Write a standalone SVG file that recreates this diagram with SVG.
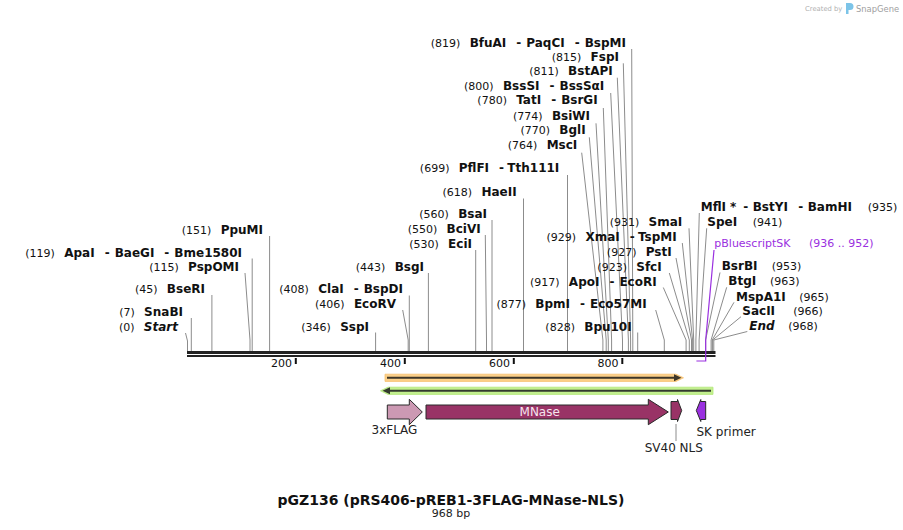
<svg xmlns="http://www.w3.org/2000/svg" width="903" height="530" viewBox="0 0 903 530">
<style>
text{font-family:"DejaVu Sans",Verdana,"Liberation Sans",sans-serif;fill:#111}
.n{font-size:11px;font-weight:normal}
.b{font-size:12px;font-weight:bold}
.bi{font-size:12px;font-weight:bold;font-style:italic}
.e{text-anchor:end}
.p{fill:#9a30e0;font-size:11px}
.l{fill:none;stroke:#8c8c8c;stroke-width:1}
.fl{font-size:12px;fill:#222}
.feat{stroke:#2a2a2a;stroke-width:1}
</style>
<rect width="903" height="530" fill="#fff"/>
<g id="watermark">
<text x="805" y="11" style="font-size:6.8px;fill:#b0b0b0">Created by</text>
<path d="M846 3h4a3.5 3.5 0 0 1 0 7h-1.5v4h-2.5z" fill="#7cc4e8"/>
<text x="856" y="12" style="font-size:8.4px;fill:#a0a0a0">SnapGene</text>
</g>
<g id="backbone">
<rect x="187" y="351" width="528.5" height="3" fill="#222"/>
<rect x="187" y="355" width="528.5" height="2" fill="#222"/>
<g fill="#111">
<rect x="294.8" y="358" width="2" height="6"/>
<rect x="403.8" y="358" width="2" height="6"/>
<rect x="512.8" y="358" width="2" height="6"/>
<rect x="621.3" y="358" width="2" height="6"/>
</g>
<text class="n e" x="292" y="367">200</text>
<text class="n e" x="401" y="367">400</text>
<text class="n e" x="510" y="367">600</text>
<text class="n e" x="618.5" y="367">800</text>
</g>
<g id="connectors">
<polyline class="l" points="185.5,333 187.5,341 187.5,351"/>
<polyline class="l" points="191.3,318 191.3,351"/>
<polyline class="l" points="211.9,295 211.9,351"/>
<polyline class="l" points="245,273 250,340 250,351"/>
<polyline class="l" points="252.2,258.5 252.2,351"/>
<polyline class="l" points="269.6,236 269.6,351"/>
<polyline class="l" points="375.6,332.5 375.6,351"/>
<polyline class="l" points="402.7,310 408.2,340 408.2,351"/>
<polyline class="l" points="409.3,295.5 409.3,351"/>
<polyline class="l" points="428.4,273 428.4,351"/>
<polyline class="l" points="475.7,250 475.7,351"/>
<polyline class="l" points="485.3,235 486.5,340 486.5,351"/>
<polyline class="l" points="492,220 492,351"/>
<polyline class="l" points="523.5,198.5 523.5,351"/>
<polyline class="l" points="567.5,175 567.5,351"/>
<polyline class="l" points="581.7,152.7 602.9,340 602.9,351"/>
<polyline class="l" points="589.3,137.3 606.2,340 606.2,351"/>
<polyline class="l" points="596,123.3 608.3,340 608.3,351"/>
<polyline class="l" points="603.3,108 611.6,340 611.6,351"/>
<polyline class="l" points="610.7,93 622.5,340 622.5,351"/>
<polyline class="l" points="617.3,77.7 628.4,340 628.4,351"/>
<polyline class="l" points="623.3,63.3 630.6,340 630.6,351"/>
<polyline class="l" points="631.7,49 632.8,340 632.8,351"/>
<polyline class="l" points="637.7,332.5 637.7,351"/>
<polyline class="l" points="655.7,310 664.3,340 664.3,351"/>
<polyline class="l" points="663.3,287.5 686.1,340 686.1,351"/>
<polyline class="l" points="669.3,273 689.3,340 689.3,351"/>
<polyline class="l" points="676,258 691.5,340 691.5,351"/>
<polyline class="l" points="682.3,243 692.6,340 692.6,351"/>
<polyline class="l" points="689,228.3 693.7,340 693.7,351"/>
<polyline class="l" points="699.3,213 695.9,340 695.9,351"/>
<polyline class="l" points="706.7,228.3 699.1,340 699.1,351"/>
<polyline class="l" points="720,272.5 705.6,340 705.6,351"/>
<polyline class="l" points="726.7,287.3 711.1,340 711.1,351"/>
<polyline class="l" points="734,302.3 712.2,340 712.2,351"/>
<polyline class="l" points="741,316.7 712.7,340 712.7,351"/>
<polyline class="l" points="747.3,331.5 713.8,340 713.8,351"/>
<polyline points="714,250 705.7,340 705.7,361 696.4,361" fill="none" stroke="#9a30e0" stroke-width="1.2"/>
<line x1="676" y1="424" x2="676" y2="441" stroke="#8c8c8c" stroke-width="1"/>
</g>
<g id="site-start"><text class="e" x="178" y="331"><tspan class="n">(0)</tspan><tspan class="bi" dx="9.3">Start</tspan></text></g>
<g id="site-snabi"><text class="e" x="183" y="316"><tspan class="n">(7)</tspan><tspan class="b" dx="9.3">SnaBI</tspan></text></g>
<g id="site-bseri"><text class="e" x="205" y="293"><tspan class="n">(45)</tspan><tspan class="b" dx="9.3">BseRI</tspan></text></g>
<g id="site-pspomi"><text class="e" x="239" y="271"><tspan class="n">(115)</tspan><tspan class="b" dx="9.3">PspOMI</tspan></text></g>
<g id="site-apai"><text class="e" x="242" y="256.5"><tspan class="n">(119)</tspan><tspan class="b" dx="9.3">ApaI</tspan><tspan class="b" dx="10">-</tspan><tspan class="b" dx="5">BaeGI</tspan><tspan class="b" dx="10">-</tspan><tspan class="b" dx="5">Bme1580I</tspan></text></g>
<g id="site-ppumi"><text class="e" x="263" y="234"><tspan class="n">(151)</tspan><tspan class="b" dx="9.3">PpuMI</tspan></text></g>
<g id="site-sspi"><text class="e" x="369" y="330.7"><tspan class="n">(346)</tspan><tspan class="b" dx="9.3">SspI</tspan></text></g>
<g id="site-ecorv"><text class="e" x="396" y="307.7"><tspan class="n">(406)</tspan><tspan class="b" dx="9.3">EcoRV</tspan></text></g>
<g id="site-clai"><text class="e" x="403" y="292.7"><tspan class="n">(408)</tspan><tspan class="b" dx="9.3">ClaI</tspan><tspan class="b" dx="10">-</tspan><tspan class="b" dx="5">BspDI</tspan></text></g>
<g id="site-bsgi"><text class="e" x="424" y="270.7"><tspan class="n">(443)</tspan><tspan class="b" dx="9.3">BsgI</tspan></text></g>
<g id="site-ecii"><text class="e" x="472" y="247.7"><tspan class="n">(530)</tspan><tspan class="b" dx="9.3">EciI</tspan></text></g>
<g id="site-bcivi"><text class="e" x="480.7" y="232.7"><tspan class="n">(550)</tspan><tspan class="b" dx="9.3">BciVI</tspan></text></g>
<g id="site-bsai"><text class="e" x="487" y="217.7"><tspan class="n">(560)</tspan><tspan class="b" dx="9.3">BsaI</tspan></text></g>
<g id="site-haeii"><text class="e" x="516.7" y="196"><tspan class="n">(618)</tspan><tspan class="b" dx="9.3">HaeII</tspan></text></g>
<g id="site-pflfi"><text class="e" x="559.3" y="171.7"><tspan class="n">(699)</tspan><tspan class="b" dx="9.3">PflFI</tspan><tspan class="b" dx="10">-</tspan><tspan class="b" dx="5">Tth111I</tspan></text></g>
<g id="site-msci"><text class="e" x="577.3" y="149"><tspan class="n">(764)</tspan><tspan class="b" dx="9.3">MscI</tspan></text></g>
<g id="site-bgli"><text class="e" x="585.7" y="134"><tspan class="n">(770)</tspan><tspan class="b" dx="9.3">BglI</tspan></text></g>
<g id="site-bsiwi"><text class="e" x="590" y="120"><tspan class="n">(774)</tspan><tspan class="b" dx="9.3">BsiWI</tspan></text></g>
<g id="site-tati"><text class="e" x="597.7" y="104.3"><tspan class="n">(780)</tspan><tspan class="b" dx="9.3">TatI</tspan><tspan class="b" dx="10">-</tspan><tspan class="b" dx="5">BsrGI</tspan></text></g>
<g id="site-bsssi"><text class="e" x="604.3" y="90"><tspan class="n">(800)</tspan><tspan class="b" dx="9.3">BssSI</tspan><tspan class="b" dx="10">-</tspan><tspan class="b" dx="5">BssSαI</tspan></text></g>
<g id="site-bstapi"><text class="e" x="612.7" y="75"><tspan class="n">(811)</tspan><tspan class="b" dx="9.3">BstAPI</tspan></text></g>
<g id="site-fspi"><text class="e" x="619" y="60.7"><tspan class="n">(815)</tspan><tspan class="b" dx="9.3">FspI</tspan></text></g>
<g id="site-bfuai"><text class="e" x="626" y="46.7"><tspan class="n">(819)</tspan><tspan class="b" dx="9.3">BfuAI</tspan><tspan class="b" dx="10">-</tspan><tspan class="b" dx="5">PaqCI</tspan><tspan class="b" dx="10">-</tspan><tspan class="b" dx="5">BspMI</tspan></text></g>
<g id="site-bpu10i"><text class="e" x="631.7" y="330.7"><tspan class="n">(828)</tspan><tspan class="b" dx="9.3">Bpu10I</tspan></text></g>
<g id="site-bpmi"><text class="e" x="646.7" y="308.3"><tspan class="n">(877)</tspan><tspan class="b" dx="9.3">BpmI</tspan><tspan class="b" dx="10">-</tspan><tspan class="b" dx="5">Eco57MI</tspan></text></g>
<g id="site-apoi"><text class="e" x="656.7" y="285.7"><tspan class="n">(917)</tspan><tspan class="b" dx="9.3">ApoI</tspan><tspan class="b" dx="10">-</tspan><tspan class="b" dx="5">EcoRI</tspan></text></g>
<g id="site-sfci"><text class="e" x="661.7" y="271"><tspan class="n">(923)</tspan><tspan class="b" dx="9.3">SfcI</tspan></text></g>
<g id="site-psti"><text class="e" x="671.7" y="255.7"><tspan class="n">(927)</tspan><tspan class="b" dx="9.3">PstI</tspan></text></g>
<g id="site-xmai"><text class="e" x="676.7" y="240.7"><tspan class="n">(929)</tspan><tspan class="b" dx="9.3">XmaI</tspan><tspan class="b" dx="10">-</tspan><tspan class="b" dx="5">TspMI</tspan></text></g>
<g id="site-smai"><text class="e" x="682.3" y="226"><tspan class="n">(931)</tspan><tspan class="b" dx="9.3">SmaI</tspan></text></g>
<g id="site-mfli"><text y="210.7"><tspan class="b" x="700.7">MflI</tspan><tspan class="b" x="730">*</tspan><tspan class="b" x="743.3">-</tspan><tspan class="b" x="752.7">BstYI</tspan><tspan class="b" x="798.3">-</tspan><tspan class="b" x="807.7">BamHI</tspan><tspan class="n" x="867.7">(935)</tspan></text></g>
<g id="site-spei"><text y="226"><tspan class="b" x="707.3">SpeI</tspan><tspan class="n" x="752.7">(941)</tspan></text></g>
<g id="feature-pbluescriptsk"><text class="p" y="247.3"><tspan x="714.3">pBluescriptSK</tspan><tspan x="809">(936 .. 952)</tspan></text></g>
<g id="site-bsrbi"><text y="270"><tspan class="b" x="721.7">BsrBI</tspan><tspan class="n" x="771.7">(953)</tspan></text></g>
<g id="site-btgi"><text y="285"><tspan class="b" x="728.3">BtgI</tspan><tspan class="n" x="770">(963)</tspan></text></g>
<g id="site-mspa1i"><text y="300.7"><tspan class="b" x="736">MspA1I</tspan><tspan class="n" x="799.3">(965)</tspan></text></g>
<g id="site-sacii"><text y="315"><tspan class="b" x="742.3">SacII</tspan><tspan class="n" x="793.3">(966)</tspan></text></g>
<g id="site-end"><text y="330"><tspan class="bi" x="749.3">End</tspan><tspan class="n" x="788.3">(968)</tspan></text></g>
<g id="primer-fwd">
<path d="M385 374.2H676L683.5 377.8L676 381.4H385Z" fill="#fcd089" stroke="#f6c070" stroke-width="0.8"/>
<line x1="387" y1="377.8" x2="676" y2="377.8" stroke="#3e3628" stroke-width="2"/>
<path d="M674 374.3L681.5 377.8L674 381.3Z" fill="#3e3628"/>
</g>
<g id="primer-rev">
<path d="M380.5 390.8L388 387.2H713V394.4H388Z" fill="#c3f08f" stroke="#b2e77a" stroke-width="0.8"/>
<line x1="389" y1="390.8" x2="711" y2="390.8" stroke="#333a2e" stroke-width="2"/>
<path d="M390 387.3L382.5 390.8L390 394.3Z" fill="#333a2e"/>
</g>
<g id="feature-3xflag">
<polygon class="feat" points="387.3,405 409.3,405 409.3,399.3 422.3,412 409.3,424.7 409.3,419 387.3,419" fill="#cc99b3"/>
<text class="fl" x="371.5" y="434.3">3xFLAG</text>
</g>
<g id="feature-mnase">
<polygon class="feat" points="426,405 648.3,405 648.3,399.3 668.3,412 648.3,424.7 648.3,419 426,419" fill="#993366"/>
<text x="539.7" y="415.5" text-anchor="middle" style="font-size:12px;fill:#f6e4ee">MNase</text>
</g>
<g id="feature-sv40nls">
<polygon class="feat" points="671,401.5 677.5,401.5 677.5,399.5 681.7,410.5 677.5,421.5 677.5,419.5 671,419.5" fill="#993366"/>
<text class="fl" x="673.8" y="451.7" text-anchor="middle">SV40 NLS</text>
</g>
<g id="feature-skprimer">
<polygon class="feat" points="705.7,401.5 700.8,401.5 700.8,399.5 696.3,410.5 700.8,421.5 700.8,419.5 705.7,419.5" fill="#9a30e0"/>
<text class="fl" x="696.5" y="436">SK primer</text>
</g>
<g id="title">
<text x="451" y="505" text-anchor="middle" style="font-size:14px;font-weight:bold">pGZ136 (pRS406-pREB1-3FLAG-MNase-NLS)</text>
<text x="451" y="516.7" text-anchor="middle" class="n" style="fill:#222">968 bp</text>
</g>
</svg>
